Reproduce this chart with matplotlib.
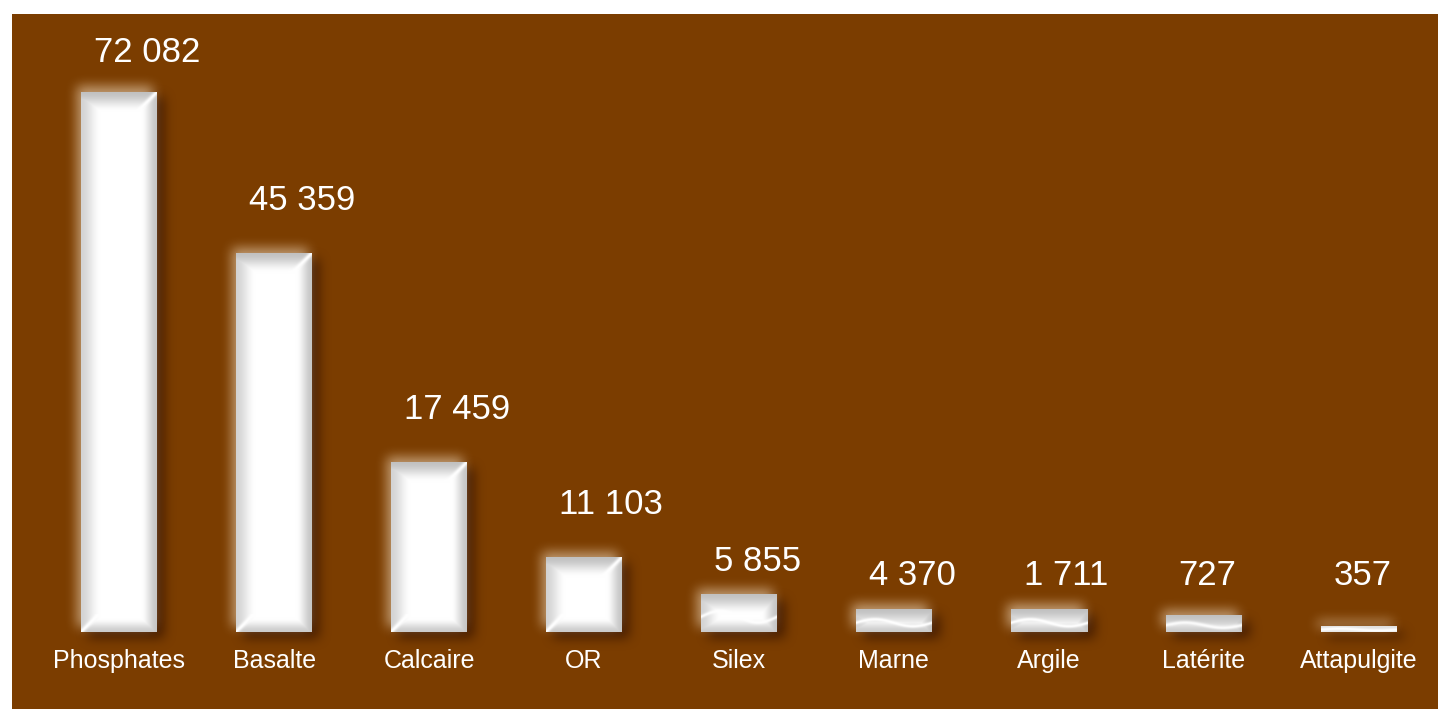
'''
Mining production chart: white bevelled bars on brown background
'''
import numpy as np
import matplotlib
matplotlib.use('Agg')
import matplotlib.pyplot as plt

# Data
categories = ["Phosphates", "Basalte", "Calcaire", "OR", "Silex", "Marne", "Argile", "Latérite", "Attapulgite"]
value_labels = ["72 082", "45 359", "17 459", "11 103", "5 855", "4 370", "1 711", "727", "357"]
# bar heights as drawn in the picture (not proportional to the labels)
bar_heights = [72082, 50460, 22560, 9880, 4940, 3070, 3070, 2140, 800]

BROWN = '#7B3D00'
FONT = 'Liberation Sans'


def blur(a, r, n=3):
	# separable box blur, repeated -> roughly gaussian
	k = np.ones(2*r+1) / (2*r+1)
	for _ in range(n):
		a = np.apply_along_axis(lambda v: np.convolve(v, k, mode='same'), 0, a)
		a = np.apply_along_axis(lambda v: np.convolve(v, k, mode='same'), 1, a)
	return a


def ramp(d, edge):
	t = np.clip(d / edge, 0, 1)
	return t * t * (3 - 2*t)


def bar_image(W, H):
	# white face with grey bevel edges and a gloss streak
	X, Y = np.meshgrid(np.arange(W) + 0.5, np.arange(H) + 0.5)
	fv = min(1.0, H / 12.0)  # very thin bars stay white
	dark = np.maximum.reduce([
		0.17 * (1 - ramp(X, 20)) * fv,
		0.22 * (1 - ramp(W - X, 16)) * fv,
		0.24 * (1 - ramp(Y, 20)) * fv,
		0.20 * (1 - ramp(H - Y, 14)) * fv,
	])
	lum = 1 - dark
	if H > 45:
		# gloss at top-right and bottom-left corners
		s1 = np.exp(-((W - X) - Y)**2 / 10.0) * (Y < 22) * (X > W - 26)
		s2 = np.exp(-(X - (H - Y))**2 / 10.0) * ((H - Y) < 18) * (X < 22)
		s = np.maximum(s1, s2)
	else:
		# wavy streak across short bars
		yc = 0.6*H - 0.15*H*np.sin(2*np.pi*X/W)
		s = np.exp(-(Y - yc)**2 / 3.0)
	lum = lum + (1 - lum) * s * 0.95
	img = np.dstack([lum, lum, lum])
	return np.clip(img, 0, 1)


def halo(W, H, m, r, color, amax):
	mask = np.zeros((H + 2*m, W + 2*m))
	mask[m:m+H, m:m+W] = 1.0
	a = blur(mask, r) * amax
	img = np.zeros(mask.shape + (4,))
	img[..., 0] = color[0]
	img[..., 1] = color[1]
	img[..., 2] = color[2]
	img[..., 3] = a
	return img


# Figure setup: 1438 x 709 px
fig = plt.figure(figsize=(14.38, 7.09), dpi=100, facecolor='white')
ax = fig.add_axes([12/1438, 0, 1426/1438, 695/709])
ax.set_facecolor(BROWN)
for s in ax.spines.values():
	s.set_visible(False)
ax.set_xticks([])
ax.set_yticks([])

# x / y scales (data units per pixel)
ux = 1.0 / 154.9
uy = bar_heights[0] / 540.0
xlim = (-(119.4 - 12) * ux, (1438 - 119.4) * ux)
ylim = (-77 * uy, 618 * uy)

xs = np.arange(len(categories))
width = 76 * ux
bars = ax.bar(xs, bar_heights, width=width, color='white', zorder=3, linewidth=0)

m = 30
for b in bars:
	x0 = b.get_x()
	x1 = x0 + b.get_width()
	h = b.get_height()
	W = 76
	H = max(int(round(h / uy)), 1)
	# dark drop shadow towards bottom-right
	sh = halo(W, H, m, 5, (0.22, 0.08, 0.0), 0.8)
	ox, oy = 7, 6
	ax.imshow(sh, extent=[x0 - m*ux + ox*ux, x1 + m*ux + ox*ux, -m*uy - oy*uy, h + m*uy - oy*uy],
		aspect='auto', zorder=2, interpolation='bilinear')
	# soft light glow towards top-left
	gl = halo(W, H, m, 5, (0.97, 0.88, 0.76), 0.6)
	ox, oy = -4, -5
	ax.imshow(gl, extent=[x0 - m*ux + ox*ux, x1 + m*ux + ox*ux, -m*uy - oy*uy, h + m*uy - oy*uy],
		aspect='auto', zorder=2.5, interpolation='bilinear')
	# bevelled face
	ax.imshow(bar_image(W, H), extent=[x0, x1, 0, h], aspect='auto', zorder=4,
		interpolation='bilinear')

# value labels above bars
for b, lab in zip(bars, value_labels):
	hpx = b.get_height() / uy
	gap = 44 if hpx > 60 else 24
	ypx = min(max(hpx + gap, 47), 570)
	ax.annotate(lab, xy=(b.get_x(), 0), xytext=(13, ypx), textcoords='offset pixels',
		ha='left', va='baseline', color='white', fontsize=25, family=FONT, zorder=5)

# category labels under bars
for x, name in zip(xs, categories):
	ax.annotate(name, xy=(x, 0), xytext=(0, -17), textcoords='offset pixels',
		ha='center', va='top', color='white', fontsize=18, family=FONT, zorder=5)

ax.set_xlim(*xlim)
ax.set_ylim(*ylim)
fig.savefig('out.png', dpi=100, facecolor='white')
plt.close(fig)
